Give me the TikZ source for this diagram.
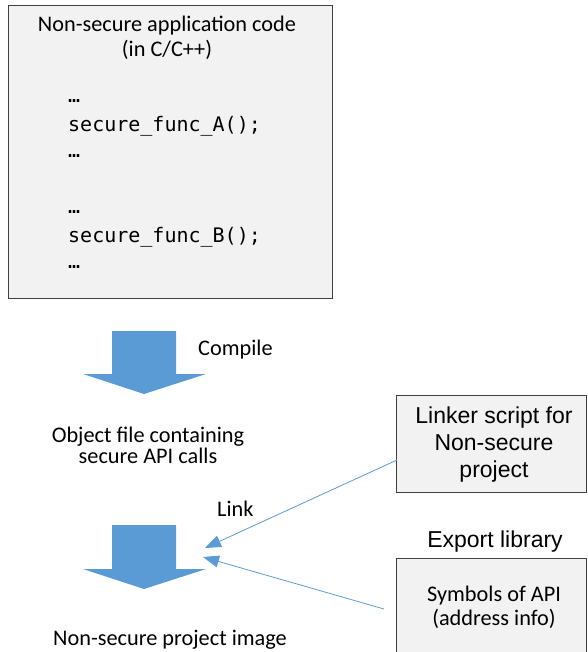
\documentclass[tikz,border=0pt]{standalone}
\usepackage{fontspec}
\setmainfont{Carlito}
\newfontfamily\arialfont{Liberation Sans}
\newfontfamily\codefont{DejaVu Sans Mono}
\usetikzlibrary{arrows.meta}
\definecolor{boxfill}{HTML}{F2F2F2}
\definecolor{boxline}{HTML}{404040}
\definecolor{flowblue}{HTML}{5B9BD5}
\begin{document}
\begin{tikzpicture}[x=1pt,y=-1pt,
  panel/.style={draw=boxline,fill=boxfill,line width=0.9pt},
  label/.style={inner sep=0pt,anchor=base,font=\fontsize{22.3}{26}\selectfont},
  arlabel/.style={inner sep=0pt,anchor=base,font=\arialfont\fontsize{23}{27}\selectfont},
  codeline/.style={inner sep=0pt,anchor=base west,font=\codefont\fontsize{20}{24}\selectfont},
  blockarrow/.style={fill=flowblue,draw=none},
  linkline/.style={draw=flowblue,line width=0.8pt,-{Triangle[length=16pt,width=12pt]}}]
\useasboundingbox (0,0) rectangle (587,652);

% source code panel
\path[panel] (8,5) rectangle (332,298);
\node[label] (srctitle) at (167,32) {Non-secure application code};
\node[label] (srclang) at (167,57) {(in C/C++)};
\node[codeline] (c1) at (68,103) {…};
\node[codeline] (c2) at (68,132) {secure\_func\_A();};
\node[codeline] (c3) at (68,158) {…};
\node[codeline] (c4) at (68,213) {…};
\node[codeline] (c5) at (68,242) {secure\_func\_B();};
\node[codeline] (c6) at (68,268) {…};

% compile step
\path[blockarrow] (112,331) -- (176,331) -- (176,374) -- (206,374) -- (144,394)
  -- (83,374) -- (112,374) -- cycle;
\node[label,anchor=base west] (compile) at (198,355) {Compile};
\node[label] (obj1) at (148,442) {Object file containing};
\node[label] (obj2) at (148,463) {secure API calls};

% link step
\path[blockarrow] (112,525) -- (176,525) -- (176,569) -- (206,569) -- (144,589)
  -- (83,569) -- (112,569) -- cycle;
\node[label,anchor=base west] (link) at (217,516) {Link};
\node[label] (image) at (170,645) {Non-secure project image};

% linker script panel
\path[panel] (396,395) rectangle (586,492);
\node[arlabel] (ls1) at (494,423) {Linker script for};
\node[arlabel] (ls2) at (494,450) {Non-secure};
\node[arlabel] (ls3) at (494,477) {project};

% export library panel
\node[arlabel] (explib) at (495,547) {Export library};
\path[panel] (396,558) rectangle (586,660);
\node[label] (sym1) at (494,601) {Symbols of API};
\node[label] (sym2) at (494,625) {(address info)};

% connectors into the link step
\coordinate (lsout) at (397,460);
\coordinate (symout) at (384,609);
\coordinate (linkin1) at (205,548);
\coordinate (linkin2) at (203,557);
\draw[linkline] (lsout) -- (linkin1);
\draw[linkline] (symout) -- (linkin2);
\end{tikzpicture}
\end{document}
